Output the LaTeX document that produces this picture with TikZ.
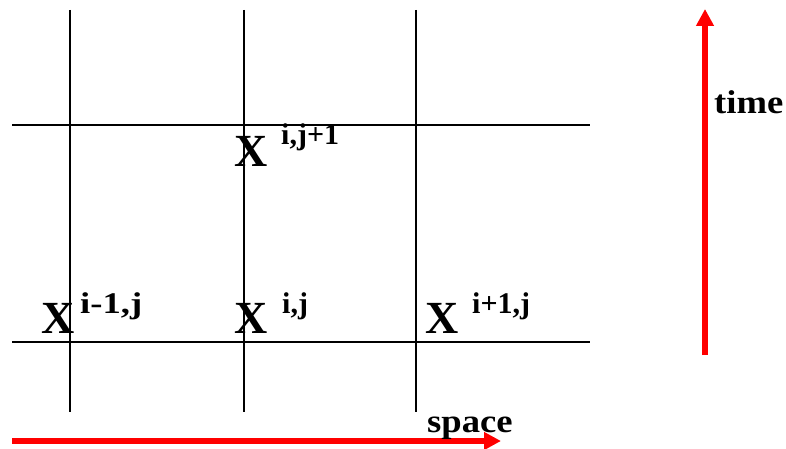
\documentclass[tikz,border=0pt]{standalone}
\usepackage{fontspec}
\setmainfont{Liberation Serif}
\usetikzlibrary{arrows.meta}
\newcommand{\wsup}[1]{\scalebox{1.22}[1]{#1}}
\newcommand{\wlab}[1]{\scalebox{1.11}[1]{#1}}
\begin{document}
\begin{tikzpicture}[x=1pt,y=-1pt,
  grid/.style={line width=1.3pt,black},
  redarrow/.style={red,line width=5.5pt,-{Triangle[length=17pt,width=17pt]}},
  bigx/.style={font=\fontsize{46}{46}\selectfont\bfseries,inner sep=0pt,anchor=base west},
  sup/.style={font=\fontsize{30}{30}\selectfont\bfseries,inner sep=0pt,anchor=base west},
  lab/.style={font=\fontsize{33}{33}\selectfont\bfseries,inner sep=0pt,anchor=base west}]
\useasboundingbox (0,0) rectangle (786,449);
% grid
\coordinate (v1t) at (70,10);  \coordinate (v1b) at (70,412);
\coordinate (v2t) at (244,10); \coordinate (v2b) at (244,412);
\coordinate (v3t) at (416,10); \coordinate (v3b) at (416,412);
\coordinate (h1l) at (12,125); \coordinate (h1r) at (590,125);
\coordinate (h2l) at (12,342); \coordinate (h2r) at (590,342);
\draw[grid] (v1t) -- (v1b);
\draw[grid] (v2t) -- (v2b);
\draw[grid] (v3t) -- (v3b);
\draw[grid] (h1l) -- (h1r);
\draw[grid] (h2l) -- (h2r);
% labels
\node[bigx] (x1) at (234,167) {X};
\node[sup] (s1) at (281,145) {i,j+1};
\node[bigx] (x2) at (41,333) {X};
\node[sup] (s2) at (80,313) {\wsup{i-1,j}};
\node[bigx] (x3) at (234,333) {X};
\node[sup] (s3) at (282,313) {i,j};
\node[bigx] (x4) at (425,333) {X};
\node[sup] (s4) at (472,313) {i+1,j};
% arrows
\coordinate (sa) at (12,441); \coordinate (sb) at (501,441);
\draw[redarrow] (sa) -- (sb);
\coordinate (ta) at (705,355); \coordinate (tb) at (705,9);
\draw[redarrow] (ta) -- (tb);
\node[lab] (time) at (714,114) {\wlab{time}};
\node[lab] (space) at (427,432) {\wlab{space}};
\end{tikzpicture}
\end{document}
